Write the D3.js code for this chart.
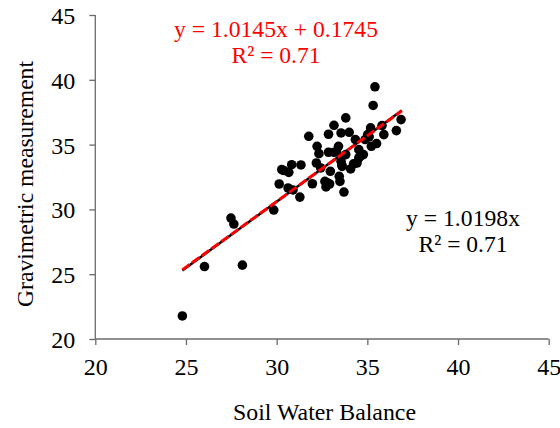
<!DOCTYPE html>
<html lang="en">
<head>
  <meta charset="UTF-8">
  <title>Soil Water Balance vs Gravimetric</title>
  <script src="https://d3js.org/d3.v7.min.js"></script>
  <style>
    body { margin: 0; background: #fff; }
    svg text { font-family: "Liberation Serif", "Times New Roman", serif; }
    .axis path, .axis line { stroke: #6b6b6b; stroke-width: 1.3px; }
  </style>
</head>
<body>
  <svg id="chart" width="560" height="428"></svg>
  <script>
    const swb = [24.8, 26.02, 28.11, 27.48, 27.64, 29.84, 30.14, 30.28, 30.67, 30.83,
                 30.63, 30.9, 31.28, 31.34, 31.77, 31.97, 32.19, 32.23, 32.33, 32.43,
                 32.66, 32.72, 32.86, 32.86, 32.96, 32.92, 33.16, 33.16, 33.41, 33.45,
                 33.49, 33.55, 33.55, 33.61, 33.71, 33.81, 33.81, 34.0, 34.08, 34.34,
                 34.24, 34.43, 34.53, 34.53, 34.78, 34.88, 35.02, 35.22, 35.18, 35.32,
                 35.42, 35.51, 35.81, 35.91, 36.6, 36.86, 30.4, 32.8, 33.6, 34.6,
                 35.1, 33.3];
    const grav = [21.78, 25.59, 25.7, 29.33, 28.87, 29.95, 31.96, 33.07, 32.86, 33.45,
                  31.65, 31.5, 30.95, 33.43, 35.64, 31.98, 33.58, 34.87, 34.3, 33.2,
                  32.16, 31.73, 35.8, 34.41, 32.94, 31.96, 36.49, 34.41, 34.87, 32.55,
                  32.16, 35.9, 33.71, 33.32, 31.34, 37.06, 34.23, 35.95, 33.12, 35.39,
                  33.51, 33.58, 34.61, 33.97, 34.23, 35.39, 35.77, 34.87, 36.29, 38.02,
                  39.46, 35.08, 36.47, 35.77, 36.08, 36.93, 33.0, 32.05, 33.4, 34.1,
                  35.6, 34.45];

    const xTicks = [20, 25, 30, 35, 40, 45];
    const yTicks = [20, 25, 30, 35, 40, 45];

    // trendlines: linear fit (red) and fit through origin (black)
    const fitLinear = { slope: 1.0145, intercept: 0.1745, r2: 0.71 };
    const fitOrigin = { slope: 1.0198, intercept: 0, r2: 0.71 };
    const trendRange = [24.8, 36.9];

    const serif = "Liberation Serif";
    const svg = d3.select("#chart");
    const margin = { left: 95.3, right: 11.3, top: 15, bottom: 89 };
    const width = 560, height = 428;

    const x = d3.scaleLinear().domain([20, 45]).range([margin.left, width - margin.right]);
    const y = d3.scaleLinear().domain([20, 45]).range([height - margin.bottom, margin.top]);

    // axes (override d3's sans-serif default on the group as well)
    svg.append("g")
       .attr("class", "axis")
       .attr("transform", `translate(0,${y(20)})`)
       .call(d3.axisBottom(x).tickValues(xTicks).tickSize(6).tickPadding(13))
       .attr("font-family", serif).attr("font-size", 24)
       .call(g => g.select(".domain").attr("d", `M${x(20)},0H${x(45)}`))
       .call(g => g.selectAll(".tick text").style("font-family", serif).style("font-size", "24px").attr("fill", "#000"));

    svg.append("g")
       .attr("class", "axis")
       .attr("transform", `translate(${x(20)},0)`)
       .call(d3.axisLeft(y).tickValues(yTicks).tickSize(6).tickPadding(14))
       .attr("font-family", serif).attr("font-size", 24)
       .call(g => g.select(".domain").attr("d", `M0,${y(45)}V${y(20)}`))
       .call(g => g.selectAll(".tick text").style("font-family", serif).style("font-size", "24px")
                   .attr("fill", "#000").attr("dy", "0.35em"));

    // points
    const pts = swb.map((v, i) => ({ x: v, y: grav[i] }));
    svg.append("g")
       .selectAll("circle")
       .data(pts)
       .enter().append("circle")
       .attr("cx", d => x(d.x))
       .attr("cy", d => y(d.y))
       .attr("r", 4.8)
       .attr("fill", "#000");

    // trendlines
    const line = d3.line().x(d => x(d[0])).y(d => y(d[1]));
    const seg = f => trendRange.map(v => [v, f.slope * v + f.intercept]);

    svg.append("path")
       .attr("d", line(seg(fitOrigin)))
       .attr("stroke", "#000")
       .attr("stroke-width", 2.5)
       .attr("fill", "none");

    svg.append("path")
       .attr("d", line(seg(fitLinear)))
       .attr("stroke", "#ff0000")
       .attr("stroke-width", 3)
       .attr("stroke-dasharray", "9,3")
       .attr("fill", "none");

    // text helper: centred, stretched to the width seen in the reference
    const lbl = (tx, ty, str, col, len, size) => svg.append("text")
       .attr("x", tx).attr("y", ty)
       .attr("text-anchor", "middle")
       .attr("textLength", len)
       .attr("lengthAdjust", "spacingAndGlyphs")
       .style("font-family", serif)
       .style("font-size", size + "px")
       .attr("fill", col)
       .text(str);

    lbl(276, 37, `y = ${fitLinear.slope}x + ${fitLinear.intercept}`, "#ff0000", 204, 24);
    lbl(276, 63, `R² = ${fitLinear.r2}`, "#ff0000", 89, 24);
    lbl(463, 226, `y = ${fitOrigin.slope}x`, "#000", 114, 24);
    lbl(463, 252, `R² = ${fitOrigin.r2}`, "#000", 89, 24);

    // axis titles
    lbl(324.5, 420, "Soil Water Balance", "#000", 183, 24);
    lbl(0, 0, "Gravimetric measurement", "#000", 246, 24)
       .attr("transform", "translate(33,184) rotate(-90)");
  </script>
</body>
</html>
